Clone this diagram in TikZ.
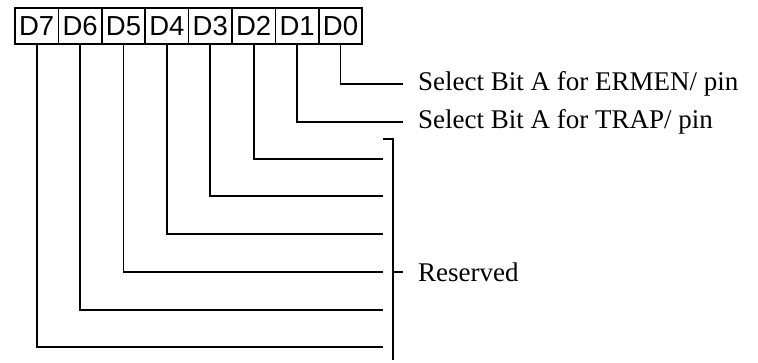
\documentclass[tikz,border=0pt]{standalone}
\usepackage{fontspec}
\setmainfont{Liberation Serif}
\newfontfamily\hv{Liberation Sans}
\begin{document}
\begin{tikzpicture}[x=1pt,y=-1pt,
  bitbox/.style={draw,line width=1.7pt,minimum width=43.4pt,minimum height=36pt,inner sep=0pt,font=\hv\fontsize{27.5}{27.5}\selectfont},
  wire/.style={line width=1.8pt},
  lbl/.style={anchor=west,inner sep=0pt,font=\fontsize{27}{28}\selectfont}]
\useasboundingbox (0,0) rectangle (758,362);
% register boxes
\foreach \i [evaluate=\i as \xc using {15+43.4*(7-\i)+21.7}] in {7,6,5,4,3,2,1,0}{
  \node[bitbox] (b\i) at (\xc,26) {D\i};
}
% wire end points
\coordinate (e0) at (403,84);
\coordinate (e1) at (403,122);
\coordinate (e2) at (383,159);
\coordinate (e3) at (383,196);
\coordinate (e4) at (383,234);
\coordinate (e5) at (383,272);
\coordinate (e6) at (383,310);
\coordinate (e7) at (383,347);
\foreach \i in {0,...,7}{
  \draw[wire] (b\i.south) |- (e\i);
}
% bracket
\coordinate (btop) at (393,139);
\coordinate (bbot) at (393,360);
\coordinate (bmid) at (393,272);
\coordinate (btick) at (383,139);
\coordinate (rtick) at (403,272);
\draw[wire] (btick) -- (btop) -- (bbot);
\draw[wire] (bmid) -- (rtick);
% labels
\node[lbl] (t0) at (418,84) {Select Bit A for ERMEN/ pin};
\node[lbl] (t1) at (418,122) {Select Bit A for TRAP/ pin};
\node[lbl] (t2) at (418,272) {Reserved};
\end{tikzpicture}
\end{document}
